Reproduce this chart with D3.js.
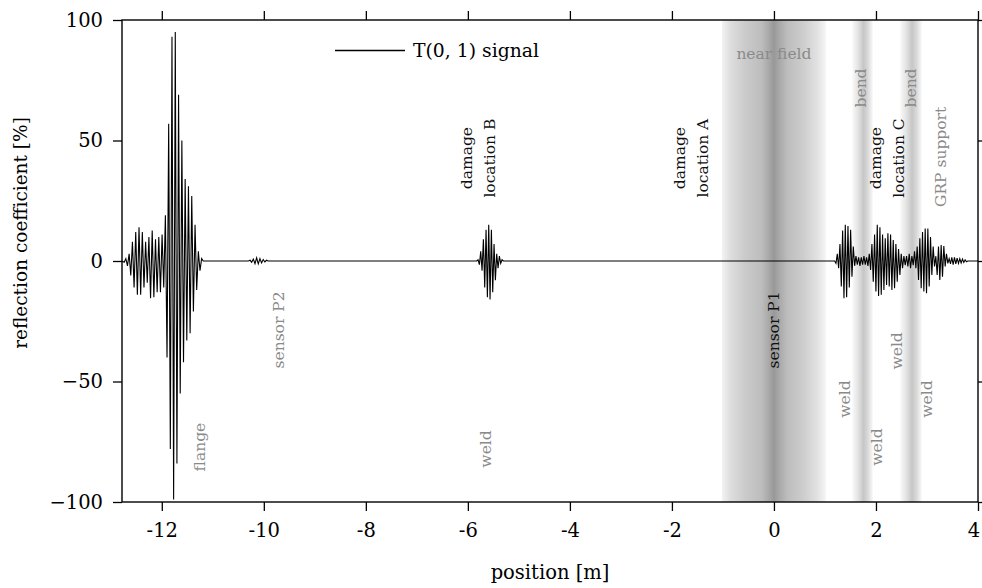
<!DOCTYPE html>
<html>
<head>
<meta charset="utf-8">
<script src="https://cdn.jsdelivr.net/npm/d3@7/dist/d3.min.js"></script>
<style>
  body { margin: 0; background: #fff; }
  svg { display: block; }
  text { font-family: "DejaVu Serif", "Liberation Serif", serif; }
</style>
</head>
<body>
<svg id="chart" width="982" height="588"></svg>
<script>
// ---------------- data ----------------
const xTicks = [-12, -10, -8, -6, -4, -2, 0, 2, 4];
const yTicks = [-100, -50, 0, 50, 100];
const xDomain = [-12.78, 4];
const yDomain = [-100, 100];

// flange echo: alternating extrema (% reflection)
const flangeStart = -12.737;
const flangeStep = 0.0323;
const flangeVals = [-0.5, 1, -2, 3, -6, 8, -11, 12, -14, 14, -14, 12, -11, 8, -9, 10, -15.5, 12.6, -15, 9, -13, 10, -13, 11, -11,
  19, -40, 57, -78, 93, -99, 95, -84, 69, -55, 50, -42, 34, -33, 31, -30, 27, -21, 15, -12, 4, -4, 1];

// small echo near sensor P2
const blipStart = -10.27;
const blipStep = 0.0323;
const blipVals = [0.3, -0.5, 0.8, -1.1, 1.3, -1.2, 1, -0.8, 0.6, -0.4, 0.3];

// damage location B echo
const echoBStart = -5.80;
const echoBStep = 0.0261;
const echoBVals = [0.5, -1.5, 4, -4, 9, -11, 13, -15, 15, -16, 13, -13, 7, -8, 3, -3, 2, -1, 0.5];

// echoes beyond sensor P1 (weld / bend / damage C / GRP support)
const rightStart = 1.216;
const rightStep = 0.0261;
const rightVals = [-1, 3, -3, 7, -10.6, 12.6, -15.5, 15, -15, 14.5, -11, 13, -6.5, 6, -2, 2,
  -1.5, 1.5, -2, 1.5, -1.5, 2, -1.5, 1.5, -2, 3,
  -3.7, 7, -8.6, 11, -12.7, 15, -14.5, 14, -14, 11, -12, 9.4, -10, 11.5, -10.6, 11, -12, 8.7, -11.3, 7, -8.6, 5, -5.8, 3, -3,
  2, -1.7, 2, -2.3, 3, -3, 2, -1.7, 4, -3,
  6, -7.9, 9.4, -11.3, 12, -12.7, 13.5, -13.4, 13.5, -10.6, 10, -5.8, 6, -2.3, 2, -5.8, 6, -7.9, 6.6, -6.5, 6.2, -2.3, 3,
  -1, 1, -1.2, 1.5, -1.5, 1.5, -1.2, 1.2, -1, 1, -0.8, 0.8, -0.6, 0.5, -0.3];

// shaded regions [from, to] in metres
const nearField = [-1.02, 1.02];
const bendBands = [[1.53, 1.94], [2.47, 2.90]];

// annotations: x in m, y in %, lines, colour class
const labels = [
  { x: -5.80, y: 42.7, lines: ["damage", "location B"], c: "k" },
  { x: -1.62, y: 42.7, lines: ["damage", "location A"], c: "k" },
  { x: 2.21, y: 42.7, lines: ["damage", "location C"], c: "k" },
  { x: 1.69, y: 71.8, lines: ["bend"], c: "g" },
  { x: 2.67, y: 71.8, lines: ["bend"], c: "g" },
  { x: 3.26, y: 43.2, lines: ["GRP support"], c: "g" },
  { x: 0.0, y: -28.6, lines: ["sensor P1"], c: "k" },
  { x: -9.71, y: -28.6, lines: ["sensor P2"], c: "g" },
  { x: -11.25, y: -77.2, lines: ["flange"], c: "g" },
  { x: -5.65, y: -78.0, lines: ["weld"], c: "g" },
  { x: 1.39, y: -57.3, lines: ["weld"], c: "g" },
  { x: 2.01, y: -77.2, lines: ["weld"], c: "g" },
  { x: 2.40, y: -37.3, lines: ["weld"], c: "g" },
  { x: 2.99, y: -57.3, lines: ["weld"], c: "g" }
];

// ---------------- build trace ----------------
function burst(start, step, vals) {
  return vals.map((v, i) => [start + i * step, v]);
}
const pts = [];
pts.push([xDomain[0], 0]);
pts.push(...burst(flangeStart, flangeStep, flangeVals));
pts.push([flangeStart + flangeVals.length * flangeStep, 0]);
pts.push([blipStart - blipStep, 0]);
pts.push(...burst(blipStart, blipStep, blipVals));
pts.push([blipStart + blipVals.length * blipStep, 0]);
pts.push([echoBStart - echoBStep, 0]);
pts.push(...burst(echoBStart, echoBStep, echoBVals));
pts.push([echoBStart + echoBVals.length * echoBStep, 0]);
pts.push([rightStart - rightStep, 0]);
pts.push(...burst(rightStart, rightStep, rightVals));
pts.push([rightStart + rightVals.length * rightStep, 0]);
pts.push([xDomain[1], 0]);

// ---------------- chart ----------------
const L = 122, R = 978, T = 20, B = 502;
const svg = d3.select("#chart");
const x = d3.scaleLinear().domain(xDomain).range([L, R]);
const y = d3.scaleLinear().domain(yDomain).range([B, T]);

const defs = svg.append("defs");
const gNF = defs.append("linearGradient").attr("id", "nf").attr("x1", 0).attr("x2", 1).attr("y1", 0).attr("y2", 0);
[[0, "#f3f3f3"], [0.08, "#dedede"], [0.22, "#cbcbcb"], [0.38, "#bdbdbd"], [0.46, "#a6a6a6"], [0.5, "#989898"],
 [0.55, "#a8a8a8"], [0.63, "#bdbdbd"], [0.78, "#cdcdcd"], [0.92, "#e2e2e2"], [1, "#f6f6f6"]]
  .forEach(s => gNF.append("stop").attr("offset", s[0]).attr("stop-color", s[1]));
const gB = defs.append("linearGradient").attr("id", "bend").attr("x1", 0).attr("x2", 1).attr("y1", 0).attr("y2", 0);
[[0, "#fbfbfb"], [0.3, "#e2e2e2"], [0.55, "#c6c6c6"], [0.75, "#d8d8d8"], [1, "#fafafa"]]
  .forEach(s => gB.append("stop").attr("offset", s[0]).attr("stop-color", s[1]));
defs.append("clipPath").attr("id", "clip").append("rect")
  .attr("x", L).attr("y", T).attr("width", R - L).attr("height", B - T);

// shaded bands
svg.append("rect").attr("x", x(nearField[0])).attr("y", T)
  .attr("width", x(nearField[1]) - x(nearField[0])).attr("height", B - T).attr("fill", "url(#nf)");
svg.selectAll("rect.bend").data(bendBands).enter().append("rect").attr("class", "bend")
  .attr("x", d => x(d[0])).attr("y", T).attr("width", d => x(d[1]) - x(d[0])).attr("height", B - T)
  .attr("fill", "url(#bend)");

// annotations
const grey = "#8a8a8a";
svg.append("text").attr("x", x(0)).attr("y", 59).attr("text-anchor", "middle")
  .attr("font-size", "15.5px").attr("fill", grey).text("near field");

labels.forEach(lb => {
  const n = lb.lines.length;
  lb.lines.forEach((t, i) => {
    const cx = x(lb.x) + (i - (n - 1) / 2) * 23;
    const cy = y(lb.y);
    svg.append("text")
      .attr("transform", `translate(${cx},${cy}) rotate(-90)`)
      .attr("text-anchor", "middle").attr("dy", "0.35em")
      .attr("font-size", "15.5px")
      .attr("fill", lb.c === "k" ? "#111" : grey)
      .text(t);
  });
});

// trace
const line = d3.line().x(d => x(d[0])).y(d => y(d[1]));
svg.append("path").datum(pts).attr("clip-path", "url(#clip)")
  .attr("d", line).attr("fill", "none").attr("stroke", "#000")
  .attr("stroke-width", 1.1).attr("stroke-linejoin", "miter");

// axes
const fmtX = d => (d < 0 ? "-" + Math.abs(d) : String(d));
const fmtY = d => (d < 0 ? "\u2212" + Math.abs(d) : String(d));
const axB = svg.append("g").attr("transform", `translate(0,${B})`)
  .call(d3.axisBottom(x).tickValues(xTicks).tickSize(9).tickSizeOuter(0).tickPadding(12).tickFormat(fmtX));
const axT = svg.append("g").attr("transform", `translate(0,${T})`)
  .call(d3.axisTop(x).tickValues(xTicks).tickSize(9).tickSizeOuter(0).tickFormat(""));
const axLft = svg.append("g").attr("transform", `translate(${L},0)`)
  .call(d3.axisLeft(y).tickValues(yTicks).tickSize(9).tickSizeOuter(0).tickPadding(10).tickFormat(fmtY));
const axRgt = svg.append("g").attr("transform", `translate(${R},0)`)
  .call(d3.axisRight(y).tickValues(yTicks).tickSize(9).tickSizeOuter(0).tickFormat(""));
[axB, axT, axLft, axRgt].forEach(g => {
  g.select(".domain").remove();
  g.selectAll(".tick line").attr("stroke", "#000").attr("stroke-width", 1.3);
  g.selectAll(".tick text").attr("font-family", "DejaVu Serif").attr("font-size", "19.5px").attr("fill", "#000");
});
// keep the last x tick label inside the page
axB.selectAll(".tick text").filter(d => d === xDomain[1]).attr("text-anchor", "end").attr("dx", "0.08em");
svg.append("rect").attr("x", L).attr("y", T).attr("width", R - L).attr("height", B - T)
  .attr("fill", "none").attr("stroke", "#000").attr("stroke-width", 1.4);

// axis titles
svg.append("text").attr("x", (L + R) / 2 + 0).attr("y", 579).attr("text-anchor", "middle")
  .attr("font-size", "19.5px").attr("fill", "#000").text("position [m]");
svg.append("text").attr("transform", "translate(27,233) rotate(-90)").attr("text-anchor", "middle")
  .attr("font-size", "18.5px").attr("fill", "#000").text("reflection coefficient [%]");

// legend
svg.append("line").attr("x1", 335).attr("x2", 405).attr("y1", 50.5).attr("y2", 50.5)
  .attr("stroke", "#000").attr("stroke-width", 1.3);
svg.append("text").attr("x", 413).attr("y", 57).attr("font-size", "18.8px").attr("fill", "#000")
  .text("T(0, 1) signal");
</script>
</body>
</html>
